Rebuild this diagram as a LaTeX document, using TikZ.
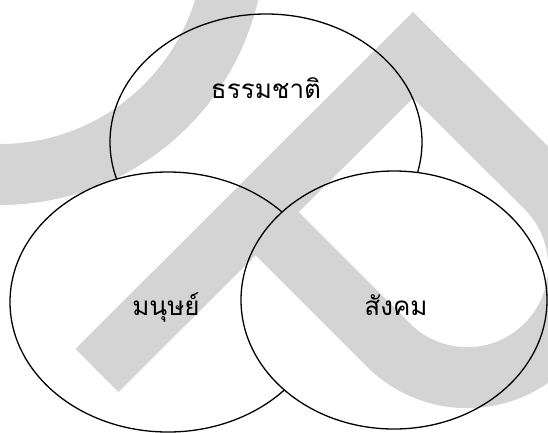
\documentclass[tikz,border=0pt]{standalone}
\usepackage{fontspec}
\newfontfamily\thaifont[Script=Thai]{Loma}

\begin{document}
\begin{tikzpicture}[
  x=1pt,y=-1pt,
  font=\thaifont\fontsize{26}{30}\selectfont,
  set/.style={draw,fill=white,line width=1.3pt},
  lbl/.style={anchor=base,inner sep=0pt},
  wmark/.style={draw=black,draw opacity=0.17,line width=61pt,line join=miter},
]
\useasboundingbox (0,0) rectangle (548,432);
\clip (0,0) rectangle (548,432);
\fill[white] (0,0) rectangle (548,432);
\coordinate (nat) at (266,142);
\coordinate (man) at (168,302);
\coordinate (soc) at (394,300);
\draw[set] (nat) ellipse [x radius=156,y radius=128];
\draw[set] (man) ellipse [x radius=158,y radius=130];
\draw[set] (soc) ellipse [x radius=153,y radius=129];
\node[lbl] (natlbl) at (266,98) {ธรรมชาติ};
\node[lbl] (manlbl) at (166,315) {มนุษย์};
\node[lbl] (soclbl) at (396,315) {สังคม};
\draw[wmark] (97,370.5) -- (413,55) -- (546,187.5)
  arc[start angle=-45,end angle=135,radius=111.4] -- (255.75,212.25)
  (234.5,-60) arc[start angle=0,end angle=100,radius=234.5];
\end{tikzpicture}
\end{document}
